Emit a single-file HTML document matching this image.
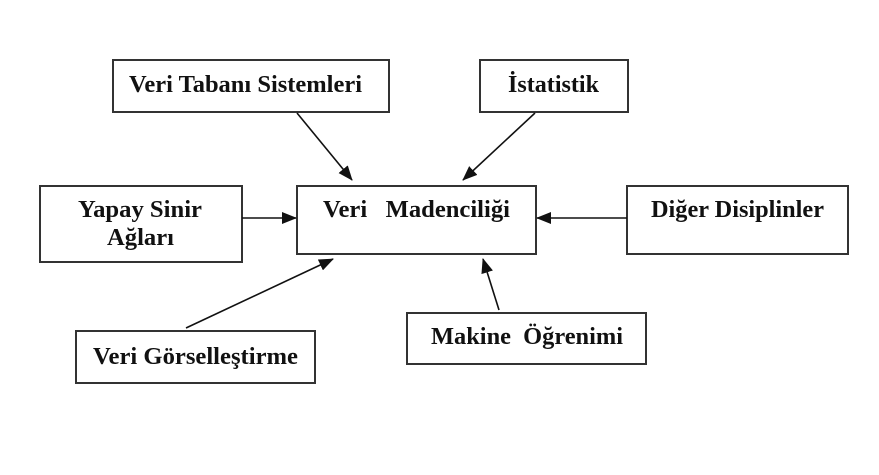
<!DOCTYPE html>
<html><head><meta charset="utf-8"><style>
html,body{margin:0;padding:0;background:#fff;}
svg{display:block;}
text{font-family:"Liberation Serif",serif;font-weight:bold;font-size:24px;fill:#111;}
</style></head><body>
<svg width="879" height="475" viewBox="0 0 879 475" xmlns="http://www.w3.org/2000/svg">
<defs><marker id="a" markerWidth="15" markerHeight="12" refX="14" refY="6" orient="auto" markerUnits="userSpaceOnUse"><path d="M0,0 L15,6 L0,12 z" fill="#111"/></marker></defs>
<g fill="none" stroke="#333" stroke-width="2">
<rect x="113" y="60" width="276" height="52"/>
<rect x="480" y="60" width="148" height="52"/>
<rect x="40" y="186" width="202" height="76"/>
<rect x="297" y="186" width="239" height="68"/>
<rect x="627" y="186" width="221" height="68"/>
<rect x="76" y="331" width="239" height="52"/>
<rect x="407" y="313" width="239" height="51"/>
</g>
<g stroke="#111" stroke-width="1.6" marker-end="url(#a)">
<line x1="297" y1="113" x2="352" y2="180"/>
<line x1="535" y1="113" x2="463" y2="180"/>
<line x1="242" y1="218" x2="296" y2="218"/>
<line x1="627" y1="218" x2="537" y2="218"/>
<line x1="186" y1="328" x2="333" y2="259"/>
<line x1="499" y1="310" x2="483" y2="259"/>
</g>
<text x="129" y="92" textLength="233" lengthAdjust="spacingAndGlyphs">Veri Tabanı Sistemleri</text>
<text x="508" y="92" textLength="91" lengthAdjust="spacingAndGlyphs">İstatistik</text>
<text x="78" y="217" textLength="124" lengthAdjust="spacingAndGlyphs">Yapay Sinir</text>
<text x="107" y="245" textLength="67" lengthAdjust="spacingAndGlyphs">Ağları</text>
<text x="323" y="217" textLength="187" lengthAdjust="spacingAndGlyphs" xml:space="preserve">Veri   Madenciliği</text>
<text x="651" y="217" textLength="173" lengthAdjust="spacingAndGlyphs">Diğer Disiplinler</text>
<text x="93" y="364" textLength="205" lengthAdjust="spacingAndGlyphs">Veri Görselleştirme</text>
<text x="431" y="344" textLength="192" lengthAdjust="spacingAndGlyphs" xml:space="preserve">Makine  Öğrenimi</text>
</svg>
</body></html>
